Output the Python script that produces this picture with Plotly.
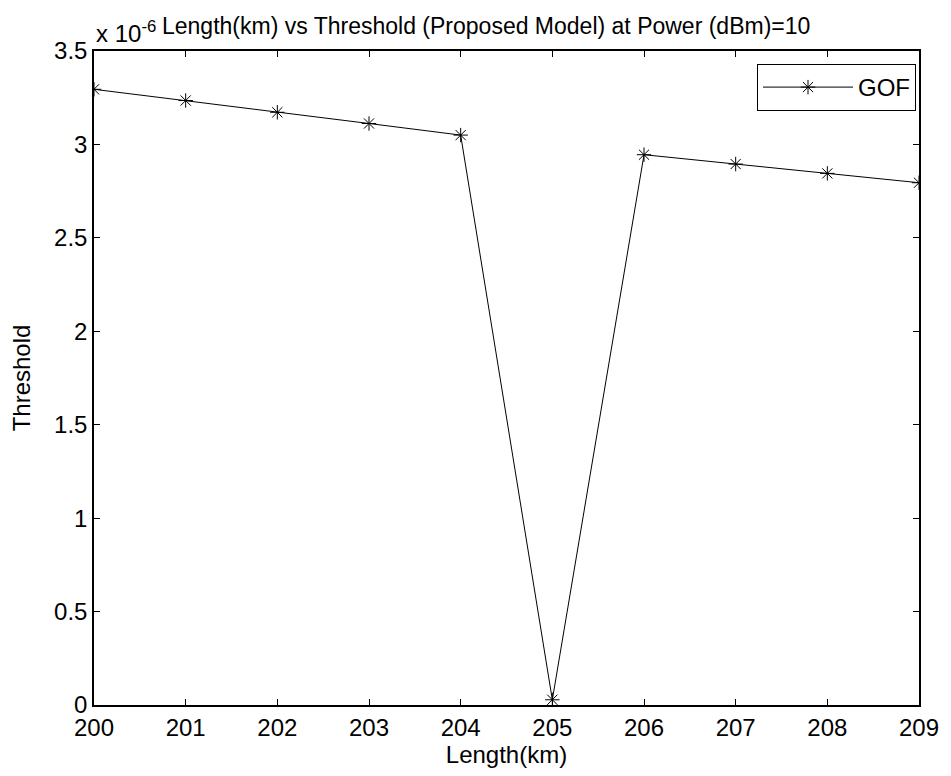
import plotly.graph_objects as go

# Fibre length (km) and detection threshold (in units of 1e-6)
length_km = [200, 201, 202, 203, 204, 205, 206, 207, 208, 209]
threshold_e6 = [3.295, 3.235, 3.172, 3.112, 3.050, 0.028, 2.945, 2.895, 2.845, 2.795]

x_ticks = [200, 201, 202, 203, 204, 205, 206, 207, 208, 209]
y_ticks = [0, 0.5, 1, 1.5, 2, 2.5, 3, 3.5]
y_tick_text = ["0", "0.5", "1", "1.5", "2", "2.5", "3", "3.5"]

FONT = "Liberation Sans, Arial, sans-serif"
FS = 24
W, H = 951, 776
L, R, T, B = 94, 28, 51, 71
plot_w = W - L - R
plot_h = H - T - B

fig = go.Figure()
fig.add_trace(go.Scatter(
    x=length_km, y=threshold_e6, mode="lines+markers", name="GOF",
    line=dict(color="black", width=1),
    marker=dict(symbol="asterisk-open", size=12, color="black",
                line=dict(color="black", width=1)),
))

axis_common = dict(
    showline=True, linecolor="black", linewidth=1.5, mirror="ticks",
    ticks="inside", ticklen=6, tickcolor="black", tickwidth=1,
    showgrid=False, zeroline=False,
    tickfont=dict(family=FONT, size=FS, color="black"),
)

fig.update_xaxes(range=[200, 209], tickvals=x_ticks, **axis_common,
                 ticklabelstandoff=0,
                 title=dict(text="Length(km)", standoff=4,
                            font=dict(family=FONT, size=FS, color="black")))
fig.update_yaxes(range=[0, 3.5], tickvals=y_ticks, ticktext=y_tick_text,
                 **axis_common,
                 title=dict(text="Threshold", standoff=17,
                            font=dict(family=FONT, size=FS, color="black")))

fig.add_annotation(
    text="x 10<sup>-6</sup>", xref="paper", yref="paper",
    x=0, y=1 + 19 / plot_h, xanchor="left", yanchor="middle",
    showarrow=False, font=dict(family=FONT, size=FS, color="black"),
)
fig.add_annotation(
    text="Length(km) vs Threshold (Proposed Model) at Power (dBm)=10",
    xref="paper", yref="paper",
    x=(160 - L) / plot_w, y=1 + 25 / plot_h,
    xanchor="left", yanchor="middle", showarrow=False,
    font=dict(family=FONT, size=23, color="black"),
)

fig.update_layout(
    width=W, height=H,
    margin=dict(l=L, r=R, t=T, b=B),
    plot_bgcolor="white", paper_bgcolor="white",
    showlegend=True,
    legend=dict(
        x=(920 - L) / plot_w, y=(H - B - 64) / plot_h,
        xanchor="right", yanchor="top",
        bordercolor="black", borderwidth=1, bgcolor="white",
        itemwidth=90,
        font=dict(family=FONT, size=FS, color="black"),
    ),
)

fig.write_html("out.html")
